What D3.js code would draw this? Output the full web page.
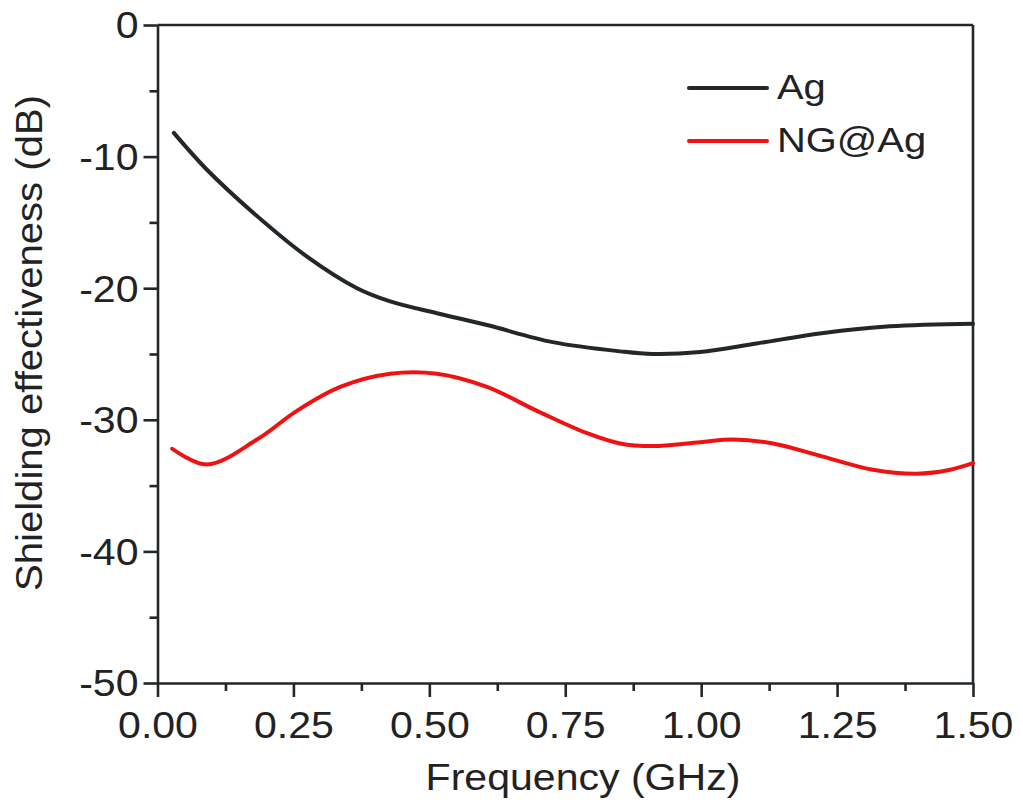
<!DOCTYPE html>
<html>
<head>
<meta charset="utf-8">
<script src="https://cdn.jsdelivr.net/npm/d3@7/dist/d3.min.js"></script>
<style>
  html, body { margin: 0; padding: 0; background: #fff; }
  svg { display: block; }
  text { font-family: "Liberation Sans", Arial, sans-serif; fill: #222; }
</style>
</head>
<body>
<svg id="chart" width="1023" height="802"></svg>
<script>
// ---- data ----
const agFreq = [0.030, 0.091, 0.177, 0.275, 0.367, 0.428, 0.514, 0.606, 0.727, 0.851, 0.911, 0.998, 1.102, 1.225, 1.347, 1.500];
const agSE   = [-8.2, -11.0, -14.3, -17.6, -20.0, -21.0, -21.9, -22.8, -24.1, -24.8, -25.0, -24.85, -24.2, -23.4, -22.9, -22.7];
const ngFreq = [0.027, 0.091, 0.183, 0.257, 0.336, 0.428, 0.514, 0.606, 0.697, 0.789, 0.851, 0.911, 0.998, 1.059, 1.132, 1.224, 1.316, 1.397, 1.458, 1.500];
const ngSE   = [-32.2, -33.4, -31.5, -29.3, -27.5, -26.5, -26.5, -27.5, -29.3, -31.0, -31.8, -32.0, -31.7, -31.5, -31.8, -32.8, -33.8, -34.1, -33.8, -33.3];
const xTicks = [0, 0.25, 0.5, 0.75, 1.0, 1.25, 1.5];
const xMinor = [0.125, 0.375, 0.625, 0.875, 1.125, 1.375];
const yTicks = [0, -10, -20, -30, -40, -50];
const yMinor = [-5, -15, -25, -35, -45];
const seriesNames = ["Ag", "NG@Ag"];
const seriesColors = ["#222826", "#f01212"];

// ---- layout ----
const L = 157.5, R = 973, T = 25, B = 683;
const svg = d3.select("#chart");
const x = d3.scaleLinear().domain([0, 1.5]).range([L, R]);
const y = d3.scaleLinear().domain([-50, 0]).range([B, T]);
const axisColor = "#222826";
const STRETCH = 1.14;

function stretch(sel) {
  sel.each(function() {
    const len = this.getComputedTextLength();
    d3.select(this).attr("textLength", len * STRETCH).attr("lengthAdjust", "spacingAndGlyphs");
  });
}

// frame top & right
svg.append("line").attr("x1", L).attr("x2", R).attr("y1", T).attr("y2", T)
  .attr("stroke", axisColor).attr("stroke-width", 2.6);
svg.append("line").attr("x1", R).attr("x2", R).attr("y1", T).attr("y2", B)
  .attr("stroke", axisColor).attr("stroke-width", 2.6);

// x axis
const xAxis = svg.append("g").attr("transform", `translate(0,${B})`)
  .call(d3.axisBottom(x).tickValues(xTicks).tickSize(14).tickSizeOuter(0).tickFormat(d3.format(".2f")));
svg.append("g").attr("transform", `translate(0,${B})`)
  .call(d3.axisBottom(x).tickValues(xMinor).tickSize(8).tickSizeOuter(0).tickFormat(""))
  .call(g => g.select(".domain").remove());
// y axis
const yAxis = svg.append("g").attr("transform", `translate(${L},0)`)
  .call(d3.axisLeft(y).tickValues(yTicks).tickSize(14).tickSizeOuter(0).tickFormat(d => String(d)));
svg.append("g").attr("transform", `translate(${L},0)`)
  .call(d3.axisLeft(y).tickValues(yMinor).tickSize(8).tickSizeOuter(0).tickFormat(""))
  .call(g => g.select(".domain").remove());

svg.selectAll(".domain").attr("stroke", axisColor).attr("stroke-width", 2.6);
svg.selectAll(".tick line").attr("stroke", axisColor).attr("stroke-width", 2.6);

xAxis.selectAll(".tick text")
  .attr("font-size", 36).attr("font-family", "Liberation Sans, Arial, sans-serif")
  .attr("fill", "#222").attr("dy", null).attr("y", 55)
  .attr("text-anchor", "middle");
yAxis.selectAll(".tick text")
  .attr("font-size", 36).attr("font-family", "Liberation Sans, Arial, sans-serif")
  .attr("fill", "#222").attr("x", -19).attr("dy", "0.36em");
xAxis.selectAll(".tick text").call(stretch);
yAxis.selectAll(".tick text").call(stretch);

// axis titles
svg.append("text").attr("x", 583).attr("y", 790).attr("text-anchor", "middle")
  .attr("font-size", 36).text("Frequency (GHz)").call(stretch);
svg.append("text").attr("transform", "translate(42,343) rotate(-90)")
  .attr("text-anchor", "middle").attr("font-size", 37)
  .attr("textLength", 496).attr("lengthAdjust", "spacingAndGlyphs")
  .text("Shielding effectiveness (dB)");

// lines
const line = d3.line().x(d => x(d[0])).y(d => y(d[1])).curve(d3.curveCatmullRom.alpha(0.5));
const agData = agFreq.map((f, i) => [f, agSE[i]]);
const ngData = ngFreq.map((f, i) => [f, ngSE[i]]);
[agData, ngData].forEach((data, i) => {
  svg.append("path").datum(data).attr("d", line)
    .attr("fill", "none").attr("stroke", seriesColors[i]).attr("stroke-width", 4)
    .attr("stroke-linecap", "round").attr("stroke-linejoin", "round");
});

// legend
const legY = [88, 141];
seriesNames.forEach((name, i) => {
  svg.append("line").attr("x1", 689).attr("x2", 767).attr("y1", legY[i]).attr("y2", legY[i])
    .attr("stroke", seriesColors[i]).attr("stroke-width", 4).attr("stroke-linecap", "round");
  svg.append("text").attr("x", 777).attr("y", legY[i] + 11).attr("font-size", 35)
    .text(name).call(stretch);
});
</script>
</body>
</html>
